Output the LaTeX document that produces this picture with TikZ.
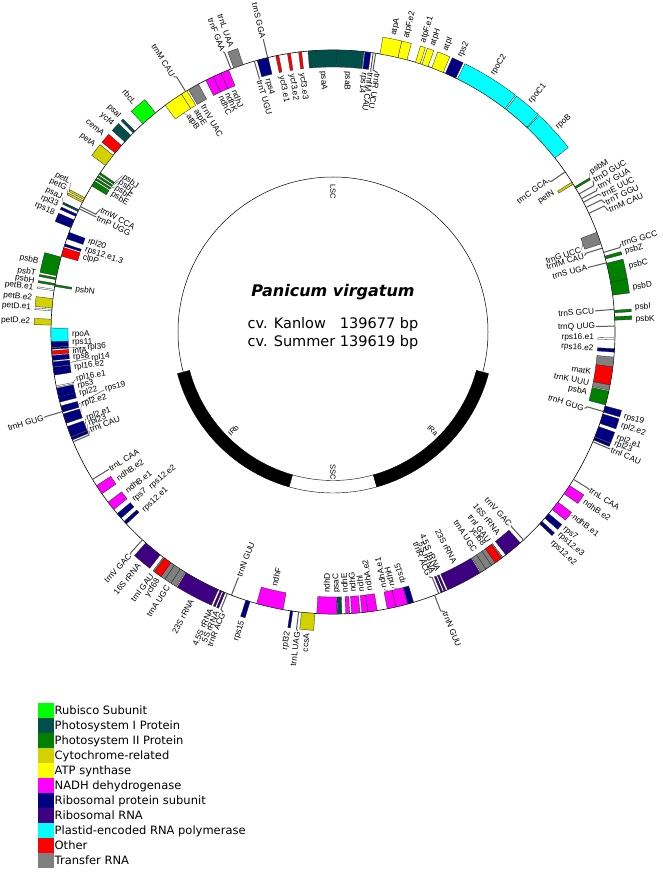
\documentclass[tikz,border=0pt]{standalone}
\usepackage{fontspec}
\setmainfont{DejaVu Sans}
\newfontfamily\mapfont{Liberation Sans}
\definecolor{rubisco}{HTML}{00FF00}
\definecolor{psi}{HTML}{004F4A}
\definecolor{psii}{HTML}{008000}
\definecolor{cyt}{HTML}{D2D200}
\definecolor{atp}{HTML}{FFFF00}
\definecolor{nadh}{HTML}{FF00FF}
\definecolor{ribo}{HTML}{000080}
\definecolor{rrna}{HTML}{3D0080}
\definecolor{rnap}{HTML}{00FFFF}
\definecolor{other}{HTML}{FF0000}
\definecolor{trna}{HTML}{808080}

% gene box on the ring: start, end, side (1 outside, -1 inside), colour
\newcommand{\genebox}[4]{%
  \pgfmathsetmacro\gbA{#1}\pgfmathsetmacro\gbB{#2}%
  \pgfmathsetmacro\gbR{282+17*(#3)}%
  \filldraw[genefill=#4] (\gbA:282pt) arc[start angle=\gbA, end angle=\gbB, radius=282pt]
    -- (\gbB:\gbR pt) arc[start angle=\gbB, end angle=\gbA, radius=\gbR pt] -- cycle;}
% radial label: angle, radius, side, text
\newcommand{\genelabel}[4]{%
  \pgfmathsetmacro\glA{mod(mod(#1,360)+360,360)}%
  \pgfmathtruncatemacro\glS{#3}%
  \ifnum\glS>0
    \pgfmathtruncatemacro\glF{(\glA>90)*(\glA<270)}%
  \else
    \pgfmathtruncatemacro\glF{(\glA>78)*(\glA<290)}%
  \fi
  \pgfmathsetmacro\glRot{\glA+180*\glF}%
  \pgfmathtruncatemacro\glW{(\glS>0)+\glF}%
  \ifnum\glW=1 \def\glAnc{west}\else\def\glAnc{east}\fi
  \node[genetext, rotate=\glRot, anchor=\glAnc] (gl) at (\glA:#2pt) {#4};}
% box + label (leader only when the label is moved)
\newcommand{\gene}[6]{%
  \genebox{#1}{#2}{#3}{#4}%
  \pgfmathsetmacro\gnR{282+20*(#3)}%
  \genelabel{#6}{\gnR}{#3}{#5}%
  \pgfmathsetmacro\gnM{((#1)+(#2))/2}%
  \pgfmathtruncatemacro\gnO{abs((#6)-\gnM)>0.6}%
  \ifnum\gnO=1 \pgfmathsetmacro\gnE{282+17*(#3)}%
    \draw[leader] (\gnM:\gnE pt) -- (gl.\glAnc);\fi}
% box + label at a given radius, always with leader
\newcommand{\genex}[7]{%
  \genebox{#1}{#2}{#3}{#4}%
  \genelabel{#6}{#7}{#3}{#5}%
  \pgfmathsetmacro\gnM{((#1)+(#2))/2}\pgfmathsetmacro\gnE{282+17*(#3)}%
  \draw[leader] (\gnM:\gnE pt) -- (gl.\glAnc);}
% tRNA tick: angle, side, text, label angle
\newcommand{\trna}[4]{%
  \pgfmathsetmacro\tnA{#1}\pgfmathsetmacro\tnE{282+17*(#2)}\pgfmathsetmacro\tnR{282+19*(#2)}%
  \genelabel{#4}{\tnR}{#2}{#3}%
  \draw[trnaline] (\tnA:282pt) -- (\tnA:\tnE pt) -- (gl.\glAnc);}
% inverted repeats: IRb given, IRa mirrored about the bottom
\newcommand{\irgene}[8]{\gene{#1}{#2}{#3}{#4}{#5}{#6}\gene{540-(#2)}{540-(#1)}{0-(#3)}{#4}{#7}{#8}}
\newcommand{\irtrna}[6]{\trna{#1}{#2}{#3}{#4}\trna{540-(#1)}{0-(#2)}{#5}{#6}}
% band of the inner circle
\newcommand{\regionband}[3]{%
  \filldraw[fill=#3, draw=black, line width=0.4pt] (#1:148.5pt) arc[start angle=#1, end angle=#2, radius=148.5pt]
    -- (#2:161pt) arc[start angle=#2, end angle=#1, radius=161pt] -- cycle;}

\begin{document}
\begin{tikzpicture}[x=1pt,y=1pt,
    genefill/.style={fill=#1, draw=black!85, line width=0.3pt},
    genetext/.style={font=\mapfont\fontsize{8.3}{9}\selectfont, inner sep=0.8pt},
    leader/.style={line width=0.35pt, black!80},
    trnaline/.style={line width=1pt, black!65},
    regtext/.style={font=\mapfont\fontsize{7.5}{8}\selectfont},
    legtext/.style={font=\fontsize{11.5}{13}\selectfont, inner sep=0pt}]
\fill[white] (-333,-540) rectangle (329,332);
\useasboundingbox (-333,-540) rectangle (329,332);

% inner circle with regions
\draw[line width=0.5pt] (0,0) circle[radius=155pt];
\regionband{195}{254.2}{black}
\regionband{254.2}{285.8}{white}
\regionband{285.8}{345}{black}
\node[regtext, rotate=-90] (lsc) at (90:140pt) {LSC};
\node[regtext, rotate=-90] (ssc) at (270:140pt) {SSC};
\node[regtext, rotate=44.6] (irb) at (224.6:140pt) {IRb};
\node[regtext, rotate=-44.6] (ira) at (315.4:140pt) {IRa};
\node[font=\fontsize{16}{19}\selectfont\bfseries\itshape] (title) at (0,40) {Panicum virgatum};
\node[font=\fontsize{14.5}{18}\selectfont] (stats) at (0,-2)
  {\begin{tabular}{@{}l@{\hspace{4.6pt}}l@{}}cv. Kanlow & 139677 bp\\ cv. Summer & 139619 bp\end{tabular}};

% genome ring
\draw[line width=0.6pt] (0,0) circle[radius=282pt];

% LSC
\gene{-15}{-12.1}{-1}{psii}{psbA}{-13.4}
\gene{-11.9}{-10.8}{-1}{trna}{trnK UUU}{-11.2}
\genebox{-7.1}{-5.1}{-1}{trna}
\gene{-10.8}{-7.1}{-1}{other}{matK}{-8.8}
\gene{-4.1}{-3.4}{-1}{ribo}{rps16.e2}{-3.7}
\gene{-1.6}{-1.2}{-1}{white}{rps16.e1}{-1.3}
\trna{1.2}{-1}{trnQ UUG}{1.2}
\gene{2.4}{3.1}{1}{psii}{psbK}{2.3}
\gene{3.9}{4.4}{1}{psii}{psbI}{4.6}
\trna{4.6}{-1}{trnS GCU}{4.6}
\gene{7.5}{10.2}{1}{psii}{psbD}{8.4}
\gene{10.2}{14.1}{1}{psii}{psbC}{12.5}
\trna{14.2}{-1}{trnS UGA}{14.2}
\gene{15.0}{15.6}{1}{psii}{psbZ}{15.4}
\trna{16.4}{1}{trnG GCC}{17}
\trna{17.3}{-1}{trnfM CAU}{16.9}
\gene{18.2}{20.7}{-1}{trna}{trnG UCC}{18.4}
\trna{24.9}{1}{trnM CAU}{23.8}
\trna{26.2}{1}{trnT GGU}{25.4}
\trna{27.4}{1}{trnE UUC}{27}
\trna{28.2}{1}{trnY GUA}{28.6}
\trna{29.3}{1}{trnD GUC}{30.2}
\gene{30.6}{31.0}{1}{psii}{psbM}{31.8}
\gene{31.6}{32.1}{-1}{cyt}{petN}{32.3}
\trna{34.6}{-1}{trnC GCA}{35.2}
\gene{38.1}{46.4}{1}{rnap}{rpoB}{42.3}
\gene{46.6}{52.1}{1}{rnap}{rpoC1}{49.4}
\gene{52.4}{63.8}{1}{rnap}{rpoC2}{58.2}
\gene{64.2}{66.5}{1}{ribo}{rps2}{65.2}
\gene{67.0}{69.5}{1}{atp}{atpI}{68.2}
\gene{70.3}{71.6}{1}{atp}{atpH}{70.8}
\gene{72.0}{73.0}{1}{atp}{atpF.e1}{72.7}
\gene{74.8}{76.7}{1}{atp}{atpF.e2}{76}
\gene{76.7}{80.4}{1}{atp}{atpA}{78.4}
\trna{81.3}{-1}{trnR UCU}{80.2}
\trna{81.8}{-1}{trnfM CAU}{81.7}
\gene{82.3}{83.5}{-1}{ribo}{rps14}{83.2}
\gene{83.7}{89.2}{-1}{psi}{psaB}{86.8}
\gene{89.2}{95.1}{-1}{psi}{psaA}{92.2}
\gene{96.4}{97}{-1}{other}{ycf3.e3}{96.8}
\gene{98.7}{99.3}{-1}{other}{ycf3.e2}{99.1}
\gene{101.1}{101.7}{-1}{other}{ycf3.e1}{101.4}
\trna{103.4}{1}{trnS GGA}{103.4}
\gene{103.3}{105.6}{-1}{ribo}{rps4}{104.5}
\trna{106.2}{-1}{trnT UGU}{106.3}
\gene{108.6}{110.6}{1}{trna}{trnL UAA}{109.6}
\trna{111.2}{1}{trnF GAA}{111.4}
\gene{111.7}{113.4}{-1}{nadh}{ndhJ}{112.2}
\gene{113.4}{115.1}{-1}{nadh}{ndhK}{113.8}
\gene{115.1}{116.8}{-1}{nadh}{ndhC}{115.4}
\gene{118.5}{120.8}{-1}{trna}{trnV UAC}{119.8}
\trna{121.5}{1}{trnM CAU}{122}
\gene{121.2}{122.5}{-1}{atp}{atpE}{121.8}
\gene{122.5}{126.5}{-1}{atp}{atpB}{123.8}
\gene{129}{132.4}{1}{rubisco}{rbcL}{130.9}
\gene{134.6}{135.1}{1}{psi}{psaI}{134.8}
\gene{135.8}{137.6}{1}{psi}{ycf4}{136.7}
\gene{138.6}{140.6}{1}{other}{cemA}{139.3}
\gene{141.2}{143.8}{1}{cyt}{petA}{142}
\gene{145.6}{146.0}{-1}{psii}{psbJ}{143.4}
\gene{146.3}{146.7}{-1}{psii}{psbL}{144.9}
\gene{147.0}{147.4}{-1}{psii}{psbF}{146.4}
\gene{147.7}{148.8}{-1}{psii}{psbE}{148.0}
\gene{151.6}{152.0}{1}{cyt}{petL}{150.4}
\gene{152.3}{152.7}{1}{cyt}{petG}{151.8}
\trna{153.6}{-1}{trnW CCA}{152.2}
\trna{154.1}{-1}{trnP UGG}{154.1}
\gene{154.3}{154.7}{1}{psi}{psaJ}{153.6}
\gene{155.3}{155.8}{1}{ribo}{rpl33}{155.2}
\gene{156.6}{158.3}{1}{ribo}{rps18}{156.9}
\gene{159.3}{160.7}{-1}{ribo}{rpl20}{159.6}
\gene{161.8}{162.3}{-1}{ribo}{rps12.e1.3}{161.6}
\gene{162.6}{164.4}{-1}{other}{clpP}{163.3}
\gene{164.6}{168.5}{1}{psii}{psbB}{166.6}
\gene{168.9}{169.3}{1}{psii}{psbT}{168.9}
\gene{170.1}{170.5}{1}{psii}{psbH}{170.3}
\gene{170.3}{170.7}{-1}{psii}{psbN}{170.6}
\gene{171.3}{171.6}{1}{white}{petB.e1}{171.7}
\gene{173.2}{175.1}{1}{cyt}{petB.e2}{173.6}
\gene{175.4}{175.7}{1}{white}{petD.e1}{175.4}
\gene{177.4}{178.6}{1}{cyt}{petD.e2}{178}
\gene{179.2}{182}{-1}{rnap}{rpoA}{180.6}
\gene{182}{183.1}{-1}{ribo}{rps11}{182.4}
\genex{183.2}{183.5}{-1}{ribo}{rpl36}{183.6}{247}
\gene{183.8}{184.6}{-1}{other}{infA}{184.1}
\gene{184.8}{185.8}{-1}{ribo}{rps8}{185.6}
\genex{186.1}{187.1}{-1}{ribo}{rpl14}{186.2}{244}
\gene{187.2}{188.8}{-1}{ribo}{rpl16.e2}{187.8}
\gene{191.0}{191.3}{-1}{white}{rpl16.e1}{190.4}
\gene{191.5}{193.3}{-1}{ribo}{rps3}{192}
\gene{193.3}{194.4}{-1}{ribo}{rpl22}{193.7}

% inverted repeats
\genex{195.2}{196.5}{-1}{ribo}{rps19}{194.2}{236}
\gene{343.5}{344.8}{1}{ribo}{rps19}{343.8}
\irtrna{196.4}{1}{trnH GUG}{196.5}{trnH GUG}{343.1}
\irgene{196.9}{198.9}{-1}{ribo}{rpl2.e2}{196}{rpl2.e2}{342}
\irgene{199.6}{201.8}{-1}{ribo}{rpl2.e1}{199.3}{rpl2.e1}{339.6}
\irgene{201.9}{202.5}{-1}{ribo}{rpl23}{200.6}{rpl23}{338.4}
\irtrna{202.9}{-1}{trnI CAU}{202}{trnI CAU}{337.1}
\irtrna{211.5}{-1}{trnL CAA}{211.5}{trnL CAA}{328.4}
\irgene{213}{215}{-1}{nadh}{ndhB.e2}{214.2}{ndhB.e2}{326}
\irgene{217.1}{219}{-1}{nadh}{ndhB.e1}{217.6}{ndhB.e1}{322.6}
\irgene{220.1}{221.3}{-1}{ribo}{rps7}{220.2}{rps7}{319.7}
\genebox{222.2}{222.9}{-1}{ribo}
\genelabel{220.4}{241}{-1}{rps12.e2}
\genelabel{223.4}{262}{-1}{rps12.e1}
\genebox{317.1}{317.8}{1}{ribo}
\genelabel{318.2}{302}{1}{rps12.e3}
\genelabel{316.2}{302}{1}{rps12.e2}
\irtrna{227.5}{1}{trnV GAC}{227.7}{trnV GAC}{312.6}
\irgene{228.4}{232.2}{1}{rrna}{16S rRNA}{230.2}{16S rRNA}{309.4}
\genebox{233}{235.8}{1}{trna}
\genebox{235.8}{237.2}{1}{trna}
\genebox{237.2}{238.4}{1}{trna}
\genebox{233.3}{234.9}{1}{other}
\genelabel{233.3}{302}{1}{trnI GAU}
\genelabel{234.8}{302}{1}{ycf68}
\genelabel{237}{302}{1}{trnA UGC}
\genebox{301.6}{302.8}{-1}{trna}
\genebox{302.8}{304.2}{-1}{trna}
\genebox{304.2}{307}{-1}{trna}
\genebox{305.1}{306.7}{-1}{other}
\genelabel{306.7}{262}{-1}{trnI GAU}
\genelabel{305.2}{262}{-1}{ycf68}
\genelabel{303}{262}{-1}{trnA UGC}
\irgene{238.6}{246}{1}{rrna}{23S rRNA}{242.2}{23S rRNA}{297.8}
\irgene{246.4}{246.8}{1}{rrna}{4.5S rRNA}{246.2}{4.5S rRNA}{293.8}
\irgene{247.1}{247.5}{1}{rrna}{5S rRNA}{247.4}{5S rRNA}{292.6}
\irtrna{248}{1}{trnR ACG}{248.6}{trnR ACG}{291.4}
\irtrna{248.9}{-1}{trnN GUU}{249}{trnN GUU}{291.8}
\gene{252.0}{252.9}{1}{ribo}{rps15}{252.6}

% SSC
\gene{254.3}{259.8}{-1}{nadh}{ndhF}{257}
\gene{261.3}{261.8}{1}{ribo}{rpl32}{261.4}
\trna{263}{1}{trnL UAG}{263.2}
\gene{263.6}{266.3}{1}{cyt}{ccsA}{265}
\gene{266.7}{270.8}{-1}{nadh}{ndhD}{268.6}
\gene{270.9}{271.8}{-1}{psi}{psaC}{270.8}
\gene{272.6}{273.4}{-1}{nadh}{ndhE}{272.6}
\gene{273.8}{275.5}{-1}{nadh}{ndhG}{274.4}
\gene{275.9}{277.1}{-1}{nadh}{ndhI}{276.2}
\gene{277.1}{279}{-1}{nadh}{ndhA.e2}{278}
\gene{281.1}{282.9}{-1}{nadh}{ndhA.e1}{281.2}
\gene{282.9}{285.3}{-1}{nadh}{ndhH}{283}
\gene{285.4}{286.6}{-1}{ribo}{rps15}{285.6}

% legend
\foreach \col/\txt [count=\i from 0] in {rubisco/Rubisco Subunit, psi/Photosystem I Protein,
    psii/Photosystem II Protein, cyt/Cytochrome-related, atp/ATP synthase,
    nadh/NADH dehydrogenase, ribo/Ribosomal protein subunit, rrna/Ribosomal RNA,
    rnap/Plastid-encoded RNA polymerase, other/Other, trna/Transfer RNA}{
  \fill[\col] (-295,{-371-15*\i}) rectangle ++(16,-15);
  \node[legtext, anchor=base west] (leg\i) at (-278.5,{-382-15*\i}) {\txt};
}
\end{tikzpicture}
\end{document}
